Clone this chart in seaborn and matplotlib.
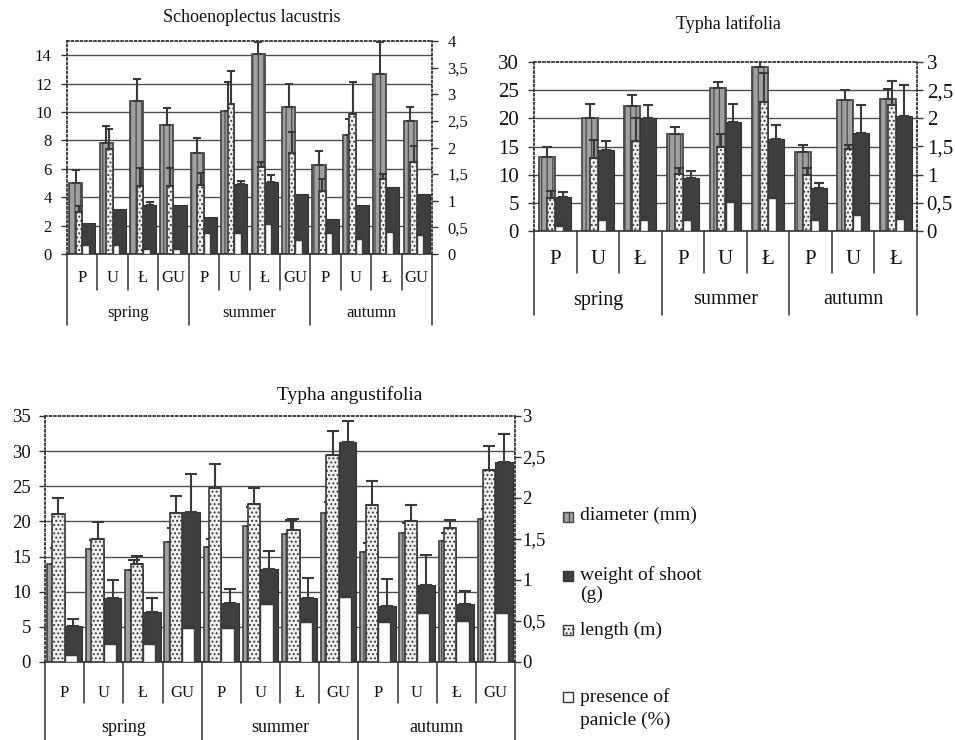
import numpy as np
import pandas as pd
import matplotlib
matplotlib.use("Agg")
import matplotlib.pyplot as plt
import matplotlib.transforms as mtransforms
from matplotlib.patches import Rectangle
from matplotlib.ticker import FuncFormatter, MultipleLocator
import seaborn as sns

# ---------------- data ----------------
seasons = ["spring", "summer", "autumn"]
sites_4 = ["P", "U", "Ł", "GU"]
sites_3 = ["P", "U", "Ł"]
legend_labels = [["diameter (mm)"], ["weight of shoot", "(g)"], ["length (m)"], ["presence of", "panicle (%)"]]

# Schoenoplectus lacustris (spring P,U,Ł,GU | summer ... | autumn ...)
sl_diameter = [5.0, 7.85, 10.8, 9.05, 7.1, 10.1, 14.05, 10.35, 6.3, 8.35, 12.7, 9.4]
sl_diameter_err = [0.95, 1.15, 1.5, 1.2, 1.05, 2.0, 0.85, 1.6, 0.95, 1.15, 2.2, 0.95]
sl_weight = [2.15, 3.15, 3.45, 3.45, 2.6, 4.95, 5.05, 4.2, 2.45, 3.45, 4.75, 4.2]
sl_weight_err = [0, 0, 0.22, 0, 0, 0.2, 0.5, 0, 0, 0, 0, 0]
sl_length = [0.79, 1.98, 1.28, 1.28, 1.30, 2.82, 1.64, 1.89, 1.19, 2.63, 1.41, 1.73]
sl_length_err = [0.11, 0.36, 0.34, 0.34, 0.23, 0.61, 0.09, 0.41, 0.22, 0.6, 0.1, 0.3]
sl_panicle = [0.17, 0.17, 0.09, 0.09, 0.39, 0.39, 0.56, 0.27, 0.40, 0.28, 0.41, 0.35]
sl_panicle_err = [0.04, 0.04, 0.02, 0.02, 0.04, 0.04, 0.06, 0.03, 0.02, 0.02, 0.02, 0.01]

# Typha latifolia (spring P,U,Ł | summer ... | autumn ...)
tl_diameter = [13.1, 20.1, 22.2, 17.3, 25.3, 29.2, 14.1, 23.2, 23.5]
tl_diameter_err = [1.9, 2.4, 2.0, 1.1, 1.2, 1.4, 1.1, 1.8, 1.7]
tl_weight = [6.1, 14.3, 20.0, 9.4, 19.4, 16.3, 7.6, 17.4, 20.5]
tl_weight_err = [0.9, 1.6, 2.3, 1.3, 3.1, 2.5, 1.0, 4.9, 5.5]
tl_length = [0.59, 1.29, 1.59, 1.01, 1.49, 2.29, 1.0, 1.45, 2.23]
tl_length_err = [0.12, 0.32, 0.41, 0.11, 0.24, 0.52, 0.11, 0.08, 0.43]
tl_panicle = [0.09, 0.19, 0.20, 0.19, 0.52, 0.58, 0.19, 0.29, 0.21]
tl_panicle_err = [0.04, 0.04, 0.05, 0.03, 0.01, 0.04, 0.03, 0.03, 0.03]

# Typha angustifolia (spring P,U,Ł,GU | summer ... | autumn ...)
ta_diameter = [13.95, 16.1, 13.1, 17.1, 16.3, 19.3, 18.2, 21.2, 15.7, 18.3, 17.2, 20.3]
ta_diameter_err = [2.3, 1.2, 1.4, 1.9, 1.2, 2.7, 2.0, 1.5, 1.3, 1.5, 1.2, 1.4]
ta_weight = [5.1, 9.15, 7.05, 21.3, 8.35, 13.3, 9.1, 31.3, 8.0, 11.0, 8.25, 28.5]
ta_weight_err = [0.95, 2.45, 2.1, 5.4, 2.0, 2.5, 2.9, 3.0, 3.8, 4.2, 1.8, 3.9]
ta_length = [1.81, 1.5, 1.2, 1.82, 2.12, 1.93, 1.61, 2.52, 1.92, 1.72, 1.63, 2.34]
ta_length_err = [0.19, 0.21, 0.09, 0.2, 0.3, 0.19, 0.13, 0.3, 0.29, 0.2, 0.1, 0.29]
ta_panicle = [0.09, 0.22, 0.22, 0.41, 0.41, 0.71, 0.49, 0.79, 0.49, 0.60, 0.50, 0.60]
ta_panicle_err = [0.03, 0.02, 0.02, 0.02, 0.02, 0.03, 0.02, 0.03, 0.03, 0.01, 0.02, 0.05]

# ---------------- style ----------------
sns.set_theme(style="white")
plt.rcParams["font.family"] = ["Liberation Serif", "DejaVu Serif"]
plt.rcParams["hatch.linewidth"] = 0.9

STY = {
    "diameter": dict(face="#a0a0a0", edge="#4a4a4a", hatch="|||", lw=1.3),
    "weight": dict(face="#3f3f3f", edge="#333333", hatch=None, lw=0.8),
    "length": dict(face="#f0f0f0", edge="#3a3a3a", hatch="....", lw=1.2),
    "panicle": dict(face="#ffffff", edge="#3a3a3a", hatch=None, lw=1.0),
}
INK = "#333333"
W, H = 955, 740

fig = plt.figure(figsize=(W / 100, H / 100), dpi=100)
fig.patch.set_facecolor("white")

comma = FuncFormatter(lambda v, p: ("%g" % v).replace(".", ","))


def bars(ax, keys, names, vals, errs, width, capsize):
    n = len(keys)
    df = pd.DataFrame({
        "key": keys * len(names),
        "series": sum([[nm] * n for nm in names], []),
        "value": sum([list(v) for v in vals], []),
    })
    sns.barplot(data=df, x="key", y="value", hue="series", order=keys,
                hue_order=names, palette={nm: STY[nm]["face"] for nm in names},
                width=width, errorbar=None, legend=False, saturation=1,
                ax=ax)
    for cont, nm, v, e in zip(ax.containers, names, vals, errs):
        s = STY[nm]
        for b in cont:
            b.set_edgecolor(s["edge"])
            b.set_linewidth(s["lw"])
            if s["hatch"]:
                b.set_hatch(s["hatch"])
        xs = np.array([b.get_x() + b.get_width() / 2 for b in cont])
        v = np.asarray(v, float)
        e = np.asarray(e, float)
        m = e > 0
        ax.errorbar(xs[m], v[m], yerr=[np.zeros(m.sum()), e[m]], fmt="none",
                    ecolor="#3a3a3a", elinewidth=1.5, capsize=capsize,
                    capthick=1.5, zorder=3)
    ax.set_xlabel("")
    ax.set_ylabel("")


def panel(rect_px, title, title_xy, title_fs, sites, prim, sec, ymax1, step1,
          ymax2, pw, sw, capsize, tick_fs, cat_fs, season_fs, lpad, rpad,
          cat_dy, short_dy, season_line_dy, season_dy):
    l, t, r, b = rect_px
    rect = [l / W, 1 - b / H, (r - l) / W, (b - t) / H]
    ax = fig.add_axes(rect)
    keys = [f"{s}|{c}" for s in seasons for c in sites]
    n = len(keys)
    bars(ax, keys, ["diameter", "weight"], prim[0::2], prim[1::2], pw, capsize)
    ax2 = ax.twinx()
    bars(ax2, keys, ["length", "panicle"], sec[0::2], sec[1::2], sw, capsize)

    for a in (ax, ax2):
        a.set_xlim(-0.5, n - 0.5)
        a.tick_params(axis="x", bottom=False, labelbottom=False, top=False)
        a.set_facecolor("none")
    ax.set_ylim(0, ymax1)
    ax2.set_ylim(0, ymax2)
    ax.yaxis.set_major_locator(MultipleLocator(step1))
    ax2.yaxis.set_major_locator(MultipleLocator(0.5))
    ax2.yaxis.set_major_formatter(comma)
    ax.tick_params(axis="y", left=True, direction="out", length=4, width=1,
                   color=INK, labelsize=tick_fs, pad=lpad, labelcolor="#111")
    ax2.tick_params(axis="y", right=True, direction="out", length=4, width=1,
                    color=INK, labelsize=tick_fs, pad=rpad, labelcolor="#111")
    # gridlines
    gl = np.arange(step1, ymax1 - 1e-9, step1)
    ax.hlines(gl, -0.5, n - 0.5, colors="#4d4d4d", linewidth=1.0, zorder=0.5)
    ax.grid(False)
    ax2.grid(False)
    # borders
    for sp in ("top", "left"):
        ax.spines[sp].set_linestyle((0, (1, 1.5)))
        ax.spines[sp].set_color(INK)
        ax.spines[sp].set_linewidth(1.3)
    ax.spines["bottom"].set_color(INK)
    ax.spines["bottom"].set_linewidth(1.2)
    ax.spines["right"].set_visible(False)
    for sp in ("top", "left", "bottom"):
        ax2.spines[sp].set_visible(False)
    ax2.spines["right"].set_linestyle((0, (1, 1.5)))
    ax2.spines["right"].set_color(INK)
    ax2.spines["right"].set_linewidth(1.3)

    # hierarchical category axis
    hpx = b - t
    tr = mtransforms.blended_transform_factory(ax.transData, ax.transAxes)
    k = len(sites)
    for i in range(n + 1):
        x = i - 0.5
        dy = season_line_dy if i % k == 0 else short_dy
        ax.plot([x, x], [0, -dy / hpx], transform=tr, clip_on=False,
                color=INK, lw=1.1)
    for i, key in enumerate(keys):
        ax.text(i, -cat_dy / hpx, key.split("|")[1], transform=tr,
                ha="center", va="center", fontsize=cat_fs, color="#111")
    for j, s in enumerate(seasons):
        ax.text(j * k + (k - 1) / 2, -season_dy / hpx, s, transform=tr,
                ha="center", va="center", fontsize=season_fs, color="#111")
    fig.text(title_xy[0] / W, 1 - title_xy[1] / H, title, ha="center",
             va="center", fontsize=title_fs, color="#111")


panel((67, 41, 432, 254), "Schoenoplectus lacustris", (252, 17), 13, sites_4,
      [sl_diameter, sl_diameter_err, sl_weight, sl_weight_err],
      [sl_length, sl_length_err, sl_panicle, sl_panicle_err],
      15, 2, 4, 0.86, 0.43, 3.2, 12, 12, 12, 7, 7,
      24, 36, 71, 59)

panel((534, 62, 917, 231), "Typha latifolia", (728, 24), 13, sites_3,
      [tl_diameter, tl_diameter_err, tl_weight, tl_weight_err],
      [tl_length, tl_length_err, tl_panicle, tl_panicle_err],
      30, 5, 3, 0.75, 0.38, 3.6, 15, 15, 14.5, 7, 3,
      29, 42, 84, 69)

panel((45, 416, 515, 662), "Typha angustifolia", (350, 395), 14, sites_4,
      [ta_diameter, ta_diameter_err, ta_weight, ta_weight_err],
      [ta_length, ta_length_err, ta_panicle, ta_panicle_err],
      35, 5, 3, 0.9, 0.63, 4.3, 13.5, 12, 13, 6, 1,
      31, 41, 78, 66)

# ---------------- legend ----------------
legend_keys = ["diameter", "weight", "length", "panicle"]
box_y = [517, 576, 630, 697]
text_y = [[515], [575, 594], [630], [697, 720]]
for nm, by, lines, ys in zip(legend_keys, box_y, legend_labels, text_y):
    s = STY[nm]
    fig.add_artist(Rectangle((563 / W, 1 - (by + 5) / H), 10 / W, 10 / H,
                             transform=fig.transFigure, facecolor=s["face"],
                             edgecolor=s["edge"], hatch=s["hatch"], lw=1.0))
    for line, y in zip(lines, ys):
        fig.text(580 / W, 1 - y / H, line, ha="left", va="center",
                 fontsize=14, color="#111")

fig.savefig("out.png", dpi=100, facecolor="white")
